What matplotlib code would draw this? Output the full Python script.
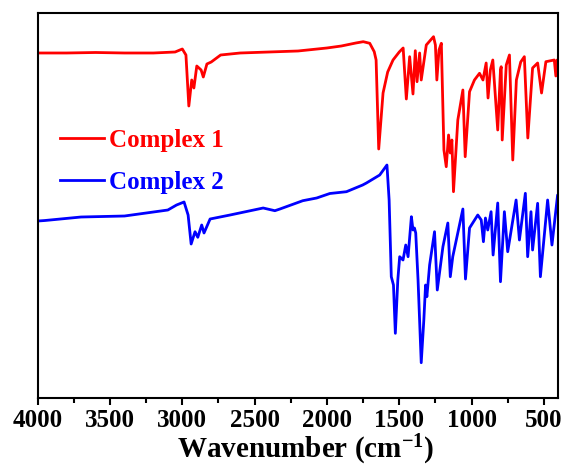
import numpy as np
import matplotlib
matplotlib.use("Agg")
import matplotlib.pyplot as plt
from matplotlib.ticker import MultipleLocator

# ---- data (transmittance in arbitrary offset units)
wn_1 = [4000, 3800, 3600, 3400, 3200, 3050, 3000, 2975, 2955, 2935, 2920, 2900,
        2870, 2855, 2830, 2800, 2735, 2600, 2400, 2200, 2000, 1900, 1800, 1749,
        1704, 1673, 1660, 1642, 1612, 1580, 1543, 1500, 1473, 1451, 1428, 1405,
        1389, 1377, 1359, 1348, 1313, 1263, 1250, 1240, 1225, 1209, 1191, 1175,
        1159, 1147, 1136, 1125, 1095, 1060, 1044, 1014, 980, 945, 921, 899,
        886, 870, 853, 819, 800, 795, 788, 760, 738, 715, 690, 660,
        635, 611, 578, 543, 516, 486, 428, 417, 408, 400]
t_1 = [347, 347, 347.5, 347, 347, 348, 351, 345, 294, 320, 312, 334,
       330, 323, 336, 338, 345, 347, 348, 349, 352, 354, 357, 358.3,
       356.7, 348.3, 340, 251, 307, 328, 340, 348, 352, 301, 343.3, 306,
       349.3, 318.3, 347, 320, 355, 363.3, 355, 320, 350, 356.7, 250, 233.3,
       265, 247, 260, 208.3, 280, 310, 243.3, 308.3, 320, 326.7, 320, 337,
       302, 330, 340, 270, 330, 333.3, 260, 335, 345, 240, 320, 338,
       343.3, 262, 332, 337, 307, 338.3, 340, 324, 340, 340]

wn_2 = [4000, 3950, 3700, 3400, 3100, 3040, 2988, 2960, 2939, 2912, 2893, 2866,
        2850, 2808, 2670, 2441, 2360, 2325, 2167, 2071, 1980, 1865, 1753, 1727,
        1635, 1585, 1570, 1555, 1540, 1527, 1510, 1497, 1474, 1455, 1439, 1416,
        1405, 1395, 1386, 1370, 1348, 1330, 1318, 1309, 1290, 1256, 1237, 1198,
        1164, 1147, 1130, 1060, 1042, 1014, 957, 933, 918, 904, 888, 865,
        851, 819, 800, 773, 750, 692, 669, 628, 612, 589, 578, 543,
        524, 474, 444, 405, 400]
t_2 = [179, 179.5, 183, 184, 190, 195, 198, 185, 156, 168.3, 162.7, 175,
       167, 181, 185, 192, 189.3, 191, 199.3, 202, 206.5, 208.3, 215, 217,
       225, 235, 200, 123.3, 115, 66.7, 120, 143.3, 140, 155, 143.3, 183.3,
       170, 172, 167, 120, 37.3, 80, 115, 103.3, 135, 168.3, 110, 153.3,
       177, 123.3, 143.3, 191, 121, 172, 185, 180, 158.3, 182, 170, 188.3,
       145, 197, 118.3, 188.3, 148.3, 200, 160, 206.7, 143.3, 188.3, 150, 196.7,
       123.3, 200, 155, 205, 205]

labels = ["Complex 1", "Complex 2"]

# ---- style
plt.rc('font', family='Liberation Serif', weight='bold', size=18)
plt.rc('mathtext', fontset='custom', rm='Liberation Serif:bold',
       bf='Liberation Serif:bold', it='Liberation Serif:italic:bold')

fig = plt.figure(figsize=(5.67, 4.68), dpi=100)
ax = fig.add_axes([0.0665, 0.1506, 0.9847 - 0.0665, 0.9716 - 0.1506])

ax.plot(wn_1, t_1, color='#ff0000', lw=2.0, label=labels[0])
ax.plot(wn_2, t_2, color='#0000ff', lw=2.0, label=labels[1])

ax.set_xlim(4000, 400)
ax.set_ylim(2.5, 386.7)
ax.xaxis.set_major_locator(MultipleLocator(500))
ax.xaxis.set_minor_locator(MultipleLocator(250))
ax.set_yticks([])

for s in ax.spines.values():
    s.set_linewidth(1.5)
ax.tick_params(axis='x', which='major', direction='out', length=5, width=1.5,
               labelsize=18, pad=3)
ax.tick_params(axis='x', which='minor', direction='out', length=3.5, width=1.5)

ax.set_xlabel(r'Wavenumber (cm$^{\mathbf{-1}}$)', fontsize=21,
              fontweight='bold', labelpad=1)
ax.xaxis.label.set_x(0.515)

leg = ax.legend(loc='upper left', bbox_to_anchor=(0.0, 0.757), frameon=False,
                fontsize=18, handlelength=1.75, handletextpad=0.2,
                labelspacing=0.75, borderaxespad=0.5)
for txt, line in zip(leg.get_texts(), leg.get_lines()):
    txt.set_color(line.get_color())

fig.savefig('out.png', dpi=100)
